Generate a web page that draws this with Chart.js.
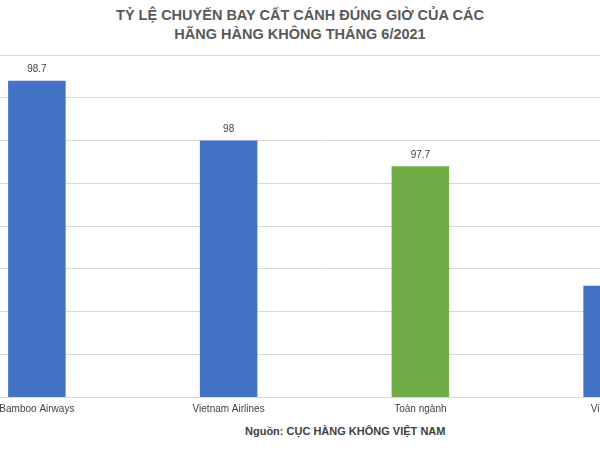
<!DOCTYPE html>
<html>
<head>
<meta charset="utf-8">
<script src="https://cdn.jsdelivr.net/npm/chart.js@4"></script>
<style>
  body { margin: 0; width: 600px; height: 452px; overflow: hidden; background: #fff; position: relative; font-family: "Liberation Sans", Arial, sans-serif; }
  #title { position: absolute; top: 6px; left: 0; width: 600px; text-align: center; color: #595959; font-weight: bold; font-size: 14.5px; line-height: 19px; }
  #source { position: absolute; top: 425px; left: 245px; width: 200px; text-align: center; color: #404040; font-weight: bold; font-size: 11px; white-space: nowrap; }
  #wrap { position: absolute; left: -59px; top: 55px; width: 767px; height: 366px; }
</style>
</head>
<body>
<div id="title">TỶ LỆ CHUYẾN BAY CẤT CÁNH ĐÚNG GIỜ CỦA CÁC<br>HÃNG HÀNG KHÔNG THÁNG 6/2021</div>
<div id="wrap"><canvas id="c"></canvas></div>
<div id="source">Nguồn: CỤC HÀNG KHÔNG VIỆT NAM</div>
<script>
const categories = ['Bamboo Airways', 'Vietnam Airlines', 'Toàn ngành', 'Vietjet Air'];
const values = [98.7, 98, 97.7, 96.3];
const barColors = ['#4472c4', '#4472c4', '#70ad47', '#4472c4'];

// nhãn giá trị phía trên cột
const valueLabels = {
  id: 'valueLabels',
  afterDatasetsDraw(chart) {
    const ctx = chart.ctx;
    ctx.save();
    ctx.font = '10px "Liberation Sans", Arial, sans-serif';
    ctx.fillStyle = '#404040';
    ctx.textAlign = 'center';
    ctx.textBaseline = 'bottom';
    chart.getDatasetMeta(0).data.forEach((bar, i) => {
      ctx.fillText(String(values[i]), bar.x, bar.y - 6);
    });
    ctx.restore();
  }
};

new Chart(document.getElementById('c'), {
  type: 'bar',
  data: {
    labels: categories,
    datasets: [{ data: values, backgroundColor: barColors, barPercentage: 0.3, categoryPercentage: 1 }]
  },
  options: {
    responsive: true,
    maintainAspectRatio: false,
    animation: false,
    events: [],
    layout: { padding: 0 },
    plugins: { legend: { display: false }, tooltip: { enabled: false } },
    scales: {
      x: {
        grid: { display: false, drawTicks: false },
        border: { color: '#d9d9d9' },
        ticks: { color: '#404040', font: { size: 10, family: '"Liberation Sans", Arial, sans-serif' }, padding: 6 }
      },
      y: {
        display: true,
        min: 95, max: 99,
        ticks: { stepSize: 0.5, display: false },
        grid: { color: '#d9d9d9', drawTicks: false },
        border: { display: false }
      }
    }
  },
  plugins: [valueLabels]
});
</script>
</body>
</html>
